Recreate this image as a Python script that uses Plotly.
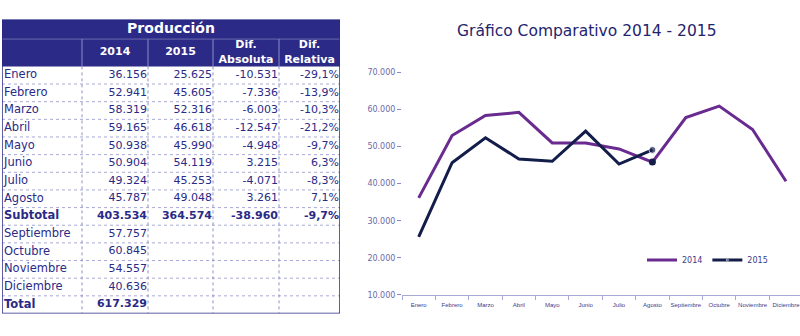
import plotly.graph_objects as go

months = ["Enero", "Febrero", "Marzo", "Abril", "Mayo", "Junio", "Julio", "Agosto",
          "Septiembre", "Octubre", "Noviembre", "Diciembre"]
v2014 = [36156, 52941, 58319, 59165, 50938, 50904, 49324, 45787, 57757, 60845, 54557, 40636]
v2015 = [25625, 45605, 52316, 46618, 45990, 54119, 45253, 49048]

table_title = "Producción"
header_labels = ["", "2014", "2015", "Dif.<br>Absoluta", "Dif.<br>Relativa"]
row_labels = ["Enero", "Febrero", "Marzo", "Abril", "Mayo", "Junio", "Julio", "Agosto",
              "<b>Subtotal</b>", "Septiembre", "Octubre", "Noviembre", "Diciembre", "<b>Total</b>"]
col_2014 = ["36.156", "52.941", "58.319", "59.165", "50.938", "50.904", "49.324", "45.787",
            "<b>403.534</b>", "57.757", "60.845", "54.557", "40.636", "<b>617.329</b>"]
col_2015 = ["25.625", "45.605", "52.316", "46.618", "45.990", "54.119", "45.253", "49.048",
            "<b>364.574</b>", "", "", "", "", ""]
col_abs = ["-10.531", "-7.336", "-6.003", "-12.547", "-4.948", "3.215", "-4.071", "3.261",
           "<b>-38.960</b>", "", "", "", "", ""]
col_rel = ["-29,1%", "-13,9%", "-10,3%", "-21,2%", "-9,7%", "6,3%", "-8,3%", "7,1%",
           "<b>-9,7%</b>", "", "", "", "", ""]

chart_title = "Gráfico Comparativo 2014 - 2015"
y_ticks = [10000, 20000, 30000, 40000, 50000, 60000, 70000]
y_tick_text = ["10.000", "20.000", "30.000", "40.000", "50.000", "60.000", "70.000"]

# ---- styling / layout constants ----
NAVY = "#2b2a86"
TXT = "#2a2a86"
GRID = "#a9a9d6"
C14 = "#6a2b91"
C15 = "#131d4a"
W, H = 800, 336
FONT = "DejaVu Sans"

def px(x):
    return x / W

def py(y):
    return 1 - y / H

# table geometry (in table-axis units)
col_edges = [0, 80, 146, 211, 277, 338]
n_rows = len(row_labels)
row_px = 18.1
hdr_bottom = -0.5
hdr_top = hdr_bottom - 28 / row_px
ttl_top = hdr_top - 20 / row_px
tbl_bottom = n_rows - 0.5

fig = go.Figure()

# ---- chart ----
fig.add_trace(go.Scatter(
    x=months, y=v2014, mode="lines", name="2014",
    line=dict(color=C14, width=3), xaxis="x", yaxis="y",
))
sizes15 = [0] * (len(v2015) - 1) + [7]
fig.add_trace(go.Scatter(
    x=months[:len(v2015)], y=v2015, mode="lines+markers", name="2015",
    line=dict(color=C15, width=3), marker=dict(size=sizes15, color=C15),
    xaxis="x", yaxis="y",
))
last = len(v2015) - 1
fig.add_trace(go.Scatter(
    x=[months[last]], y=[v2014[last]], mode="markers", showlegend=False,
    marker=dict(size=7, color=C15), xaxis="x", yaxis="y", hoverinfo="skip",
))

# ---- table ----
shapes = []
shapes.append(dict(type="rect", xref="x2", yref="y2", x0=col_edges[0], x1=col_edges[-1],
                   y0=ttl_top, y1=hdr_bottom, fillcolor=NAVY, line=dict(width=0), layer="below"))
for i in range(n_rows - 1):
    shapes.append(dict(type="line", xref="x2", yref="y2", x0=col_edges[0], x1=col_edges[-1],
                       y0=i + 0.5, y1=i + 0.5, line=dict(color=GRID, width=1, dash="dot"),
                       layer="below"))
shapes.append(dict(type="line", xref="x2", yref="y2", x0=col_edges[0], x1=col_edges[-1],
                   y0=hdr_top, y1=hdr_top, line=dict(color="#6a6ab0", width=1), layer="below"))
for e in col_edges[1:-1]:
    shapes.append(dict(type="line", xref="x2", yref="y2", x0=e, x1=e,
                       y0=hdr_top, y1=hdr_bottom, line=dict(color="#8c8cc8", width=1),
                       layer="below"))
    shapes.append(dict(type="line", xref="x2", yref="y2", x0=e, x1=e,
                       y0=hdr_bottom, y1=tbl_bottom, line=dict(color="#8f8fc6", width=1, dash="dot"),
                       layer="below"))
shapes.append(dict(type="rect", xref="x2", yref="y2", x0=col_edges[0], x1=col_edges[-1],
                   y0=ttl_top, y1=tbl_bottom, line=dict(color=NAVY, width=1.5),
                   fillcolor="rgba(0,0,0,0)", layer="above"))

rows = list(range(n_rows))
fig.add_trace(go.Scatter(
    x=[col_edges[0] + 2] * n_rows, y=rows, text=row_labels, mode="text",
    textposition="middle right", textfont=dict(family=FONT, size=11.5, color=TXT),
    xaxis="x2", yaxis="y2", showlegend=False, hoverinfo="skip",
))
for j, col in enumerate([col_2014, col_2015, col_abs, col_rel], start=1):
    fig.add_trace(go.Scatter(
        x=[col_edges[j + 1] - 1] * n_rows, y=rows, text=col, mode="text",
        textposition="middle left", textfont=dict(family=FONT, size=11, color=TXT),
        xaxis="x2", yaxis="y2", showlegend=False, hoverinfo="skip",
    ))
hdr_mid = (hdr_top + hdr_bottom) / 2
centers = [(col_edges[k] + col_edges[k + 1]) / 2 for k in range(len(col_edges) - 1)]
fig.add_trace(go.Scatter(
    x=centers, y=[hdr_mid] * len(centers),
    text=["<b>%s</b>" % h if h else "" for h in header_labels], mode="text",
    textposition="middle center", textfont=dict(family=FONT, size=11, color="white"),
    xaxis="x2", yaxis="y2", showlegend=False, hoverinfo="skip",
))
fig.add_trace(go.Scatter(
    x=[(col_edges[0] + col_edges[-1]) / 2], y=[(ttl_top + hdr_top) / 2],
    text=["<b>%s</b>" % table_title], mode="text", textposition="middle center",
    textfont=dict(family=FONT, size=14, color="white"),
    xaxis="x2", yaxis="y2", showlegend=False, hoverinfo="skip",
))

fig.add_annotation(text=chart_title, xref="paper", yref="paper",
                   x=px(587), y=py(28), showarrow=False,
                   font=dict(family=FONT, size=15.5, color="#24246e"),
                   xanchor="center", yanchor="middle")

fig.update_layout(
    width=W, height=H,
    margin=dict(l=0, r=0, t=0, b=0),
    paper_bgcolor="white", plot_bgcolor="white",
    shapes=shapes,
    showlegend=True,
    legend=dict(orientation="h", x=px(642), y=py(263), xanchor="left", yanchor="middle",
                font=dict(family=FONT, size=8, color="#3a3a8a"),
                bgcolor="rgba(0,0,0,0)", itemwidth=30, tracegroupgap=0),
    xaxis=dict(domain=[px(402), 1], range=[-0.5, 11.42],
               showgrid=False, zeroline=False,
               showline=True, linecolor="#a8a8d6", linewidth=1,
               ticks="outside", tickson="boundaries", ticklen=4, tickcolor="#a8a8d6",
               tickangle=0, ticklabelstandoff=4,
               tickfont=dict(family="Liberation Sans", size=6, color="#3a3a8a"),
               categoryorder="array", categoryarray=months, anchor="y"),
    yaxis=dict(domain=[py(299), py(70)], range=[10000, 70000],
               tickvals=y_ticks, ticktext=y_tick_text,
               showgrid=False, zeroline=False, showline=False,
               ticks="outside", ticklen=4, tickcolor="#8a8ac0",
               tickfont=dict(family=FONT, size=8, color="#6a6aa8"), anchor="x"),
    xaxis2=dict(domain=[px(2), px(340)], range=[col_edges[0], col_edges[-1]],
                visible=False, fixedrange=True, anchor="y2"),
    yaxis2=dict(domain=[py(318), py(16)], range=[tbl_bottom, ttl_top],
                visible=False, fixedrange=True, anchor="x2"),
)

fig.write_html("out.html")
